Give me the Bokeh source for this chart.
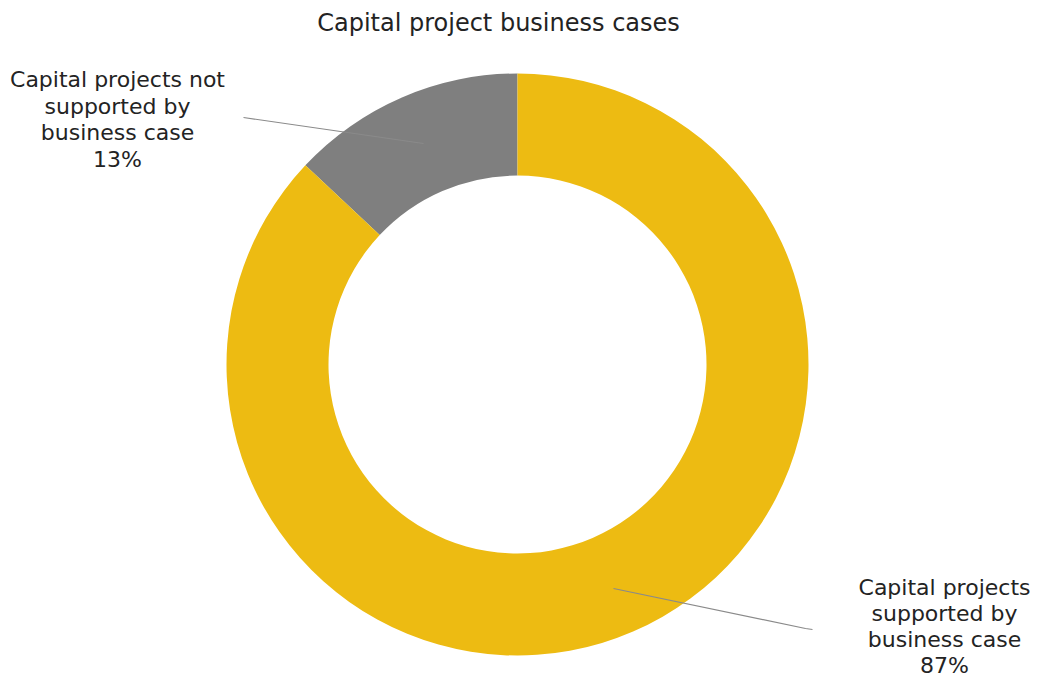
import math
from bokeh.plotting import figure
from bokeh.models import Range1d, ColumnDataSource
from bokeh.core.properties import value
from bokeh.embed import file_html
from bokeh.resources import INLINE

# ---- data ----
categories = ["Capital projects not supported by business case",
              "Capital projects supported by business case"]
shares = [13, 87]
colors = ["#7f7f7f", "#edbb12"]
label_lines = [["Capital projects not", "supported by", "business case", "13%"],
               ["Capital projects", "supported by", "business case", "87%"]]
title_text = "Capital project business cases"

W, H = 1039, 679
FONT = "DejaVu Sans"

p = figure(width=W, height=H, output_backend="svg", toolbar_location=None,
           x_range=Range1d(0, W), y_range=Range1d(0, H), min_border=0)
p.axis.visible = False
p.grid.visible = False
p.outline_line_color = None
p.background_fill_color = "white"
p.border_fill_color = "white"

def fy(y):
    return H - y

# donut: starts at 12 o'clock, first slice counter-clockwise
cx, cy = 517, fy(364)
total = sum(shares)
starts, ends = [], []
a = math.pi / 2
for s in shares:
    starts.append(a)
    a += 2 * math.pi * s / total
    ends.append(a)
src = ColumnDataSource(dict(start=starts, end=ends, color=colors, cat=categories))
p.annular_wedge(x=cx, y=cy, inner_radius=189, outer_radius=291,
                start_angle="start", end_angle="end", fill_color="color",
                line_color=None, source=src)

# leader lines
p.line([243, 423], [fy(117), fy(143)], line_color="#8a8a8a", line_width=1.2)
p.line([613, 805, 812], [fy(588), fy(628), fy(629)], line_color="#8a8a8a", line_width=1.2)

# title
p.text(x=[498], y=[fy(22)], text=[title_text], text_align="center",
       text_baseline="alphabetic", text_font=value(FONT),
       text_font_size="24px", text_color="#232323")

# labels
label_x = [117, 944]
label_y0 = [79, 587]
steps = [26.5, 26]
for lx, ly, st, lines in zip(label_x, label_y0, steps, label_lines):
    ys = [fy(ly + i * st) for i in range(len(lines))]
    p.text(x=[lx] * len(lines), y=ys, text=lines, text_align="center",
           text_baseline="alphabetic", text_font=value(FONT),
           text_font_size="22px", text_color="#232323")

open("out.html", "w").write(file_html(p, INLINE))
